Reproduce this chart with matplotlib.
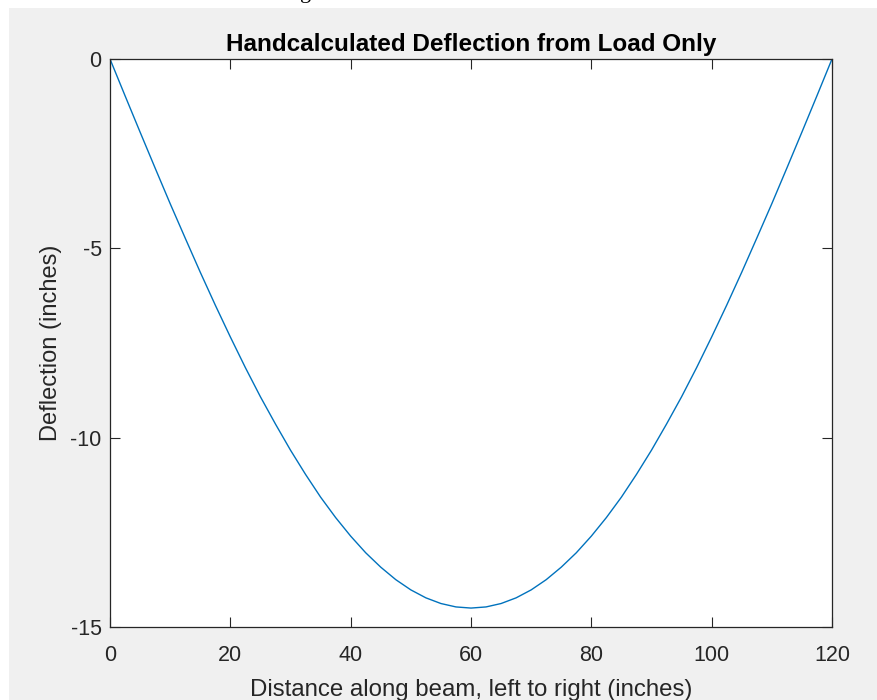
import matplotlib
matplotlib.use("Agg")
import matplotlib.pyplot as plt
from matplotlib.patches import Rectangle

plt.rcParams["axes.unicode_minus"] = False

# Beam position (inches) and hand-calculated deflection (inches)
position = [0, 2.5, 5, 7.5, 10, 12.5, 15, 17.5, 20, 22.5, 25, 27.5, 30,
            32.5, 35, 37.5, 40, 42.5, 45, 47.5, 50, 52.5, 55, 57.5, 60,
            62.5, 65, 67.5, 70, 72.5, 75, 77.5, 80, 82.5, 85, 87.5, 90,
            92.5, 95, 97.5, 100, 102.5, 105, 107.5, 110, 112.5, 115, 117.5, 120]
deflection = [0.0, -0.97, -1.93, -2.88, -3.82, -4.73, -5.63, -6.50, -7.34,
              -8.15, -8.92, -9.64, -10.33, -10.97, -11.57, -12.11, -12.60,
              -13.04, -13.42, -13.75, -14.02, -14.23, -14.38, -14.47, -14.50,
              -14.47, -14.38, -14.23, -14.02, -13.75, -13.42, -13.04, -12.60,
              -12.11, -11.57, -10.97, -10.33, -9.64, -8.92, -8.15, -7.34,
              -6.50, -5.63, -4.73, -3.82, -2.88, -1.93, -0.97, 0.0]

x_ticks = [0, 20, 40, 60, 80, 100, 120]
y_ticks = [-15, -10, -5, 0]

W, H = 878, 700
fig = plt.figure(figsize=(W / 100, H / 100), dpi=100, facecolor="white")

# grey figure window
fig.patches.append(Rectangle((9 / W, 0), 1 - 9 / W, 1 - 8 / H,
                             transform=fig.transFigure, facecolor="#F0F0F0",
                             edgecolor="none", zorder=-1))
# clipped descender of the text above the window
fig.text(306 / W, 1 + 2 / H, "g", family="Liberation Serif", fontsize=16,
         ha="center", va="baseline", color="black", zorder=-1)

ax = fig.add_axes([110 / W, 1 - 627 / H, 722 / W, 568 / H])
ax.set_facecolor("white")
ax.plot(position, deflection, color="#0072BD", lw=1.0)

ax.set_xlim(0, 120)
ax.set_ylim(-15, 0)
ax.set_xticks(x_ticks)
ax.set_yticks(y_ticks)

font = "Liberation Sans"
dark = "#262626"
for s in ax.spines.values():
    s.set_color(dark)
    s.set_linewidth(0.9)
ax.tick_params(direction="in", length=7, width=0.8, color=dark,
               top=True, right=True, labelsize=15.5, labelcolor=dark)
ax.tick_params(axis="x", pad=13)
ax.tick_params(axis="y", pad=6)
for lab in ax.get_xticklabels() + ax.get_yticklabels():
    lab.set_family(font)

ax.set_title("Handcalculated Deflection from Load Only", family=font,
             fontsize=17.5, fontweight="bold", color="black", pad=6)
ax.set_xlabel("Distance along beam, left to right (inches)", family=font,
              fontsize=17.3, color=dark, labelpad=9)
ax.set_ylabel("Deflection (inches)", family=font, fontsize=17, color=dark,
              labelpad=6)

fig.savefig("out.png", dpi=100, facecolor=fig.get_facecolor())
